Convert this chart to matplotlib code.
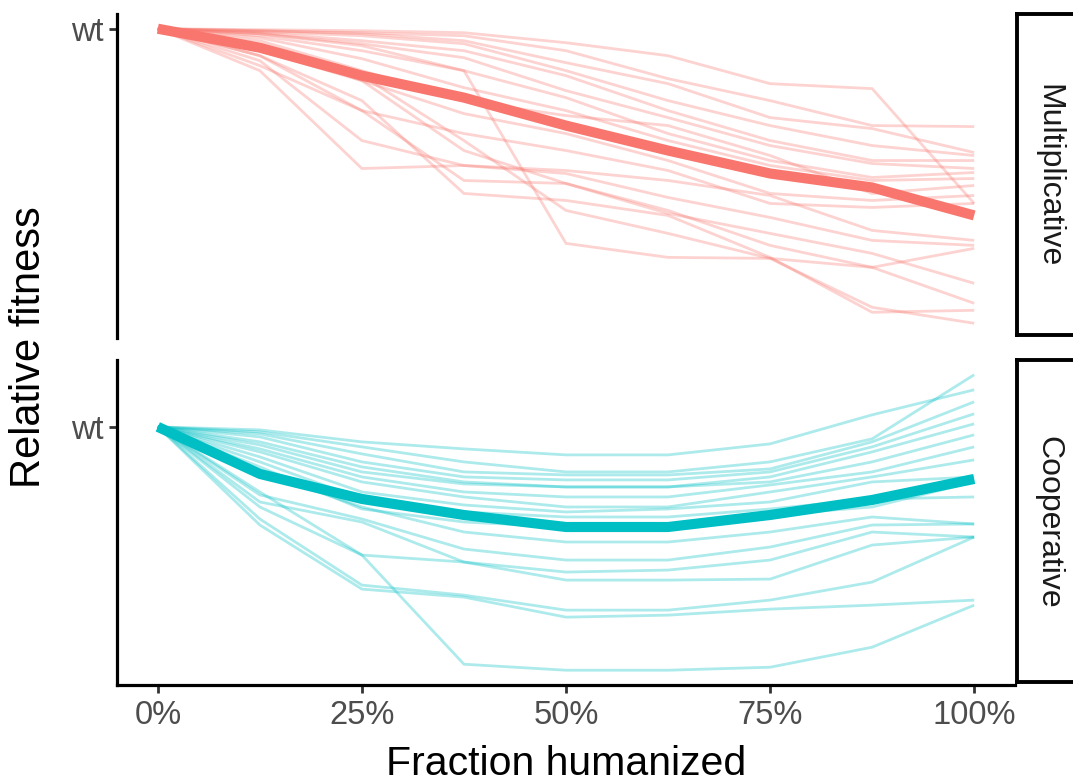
import matplotlib
matplotlib.use("Agg")
import matplotlib.pyplot as plt

plt.rcParams['font.family'] = ['Liberation Sans', 'DejaVu Sans']

# ---------------- data ----------------
frac = [0, 0.125, 0.25, 0.375, 0.5, 0.625, 0.75, 0.875, 1.0]
x_ticks = [0, 0.25, 0.5, 0.75, 1.0]
x_tick_labels = ["0%", "25%", "50%", "75%", "100%"]
y_tick_value = 1.0
y_tick_label = "wt"
panels = ["Multiplicative", "Cooperative"]

mult_lines = [
    [1, 0.999, 0.998, 0.996, 0.986, 0.973, 0.945, 0.940, 0.825],
    [1, 0.998, 0.996, 0.993, 0.978, 0.950, 0.928, 0.903, 0.902],
    [1, 0.998, 0.995, 0.988, 0.966, 0.945, 0.911, 0.900, 0.876],
    [1, 0.997, 0.993, 0.985, 0.958, 0.928, 0.903, 0.883, 0.873],
    [1, 0.996, 0.988, 0.978, 0.953, 0.918, 0.888, 0.868, 0.868],
    [1, 0.995, 0.985, 0.971, 0.938, 0.911, 0.883, 0.865, 0.860],
    [1, 0.993, 0.978, 0.958, 0.931, 0.895, 0.868, 0.851, 0.856],
    [1, 0.991, 0.970, 0.941, 0.918, 0.888, 0.863, 0.848, 0.850],
    [1, 0.988, 0.958, 0.928, 0.913, 0.903, 0.873, 0.835, 0.843],
    [1, 0.983, 0.948, 0.915, 0.895, 0.868, 0.835, 0.828, 0.833],
    [1, 0.973, 0.918, 0.895, 0.878, 0.858, 0.825, 0.821, 0.825],
    [1, 0.968, 0.888, 0.863, 0.858, 0.848, 0.833, 0.798, 0.788],
    [1, 0.958, 0.860, 0.863, 0.855, 0.831, 0.811, 0.788, 0.783],
    [1, 0.978, 0.948, 0.878, 0.845, 0.815, 0.795, 0.775, 0.745],
    [1, 0.963, 0.918, 0.848, 0.845, 0.818, 0.783, 0.761, 0.725],
    [1, 0.983, 0.953, 0.888, 0.818, 0.795, 0.770, 0.721, 0.705],
    [1, 0.973, 0.928, 0.835, 0.828, 0.813, 0.771, 0.716, 0.718],
    [1, 0.995, 0.983, 0.958, 0.785, 0.771, 0.770, 0.761, 0.780],
]
mult_mean = [1, 0.981, 0.953, 0.931, 0.903, 0.878, 0.855, 0.841, 0.813]

coop_lines = [
    [1, 0.997, 0.985, 0.978, 0.972, 0.972, 0.983, 1.012, 1.037],
    [1, 0.995, 0.980, 0.965, 0.955, 0.955, 0.965, 0.988, 1.052],
    [1, 0.993, 0.973, 0.955, 0.952, 0.952, 0.958, 0.985, 1.025],
    [1, 0.990, 0.965, 0.950, 0.947, 0.947, 0.955, 0.980, 1.013],
    [1, 0.985, 0.960, 0.945, 0.940, 0.940, 0.950, 0.975, 1.003],
    [1, 0.982, 0.955, 0.943, 0.940, 0.940, 0.945, 0.965, 0.992],
    [1, 0.978, 0.950, 0.935, 0.930, 0.930, 0.942, 0.955, 0.980],
    [1, 0.975, 0.945, 0.930, 0.920, 0.920, 0.935, 0.950, 0.967],
    [1, 0.970, 0.935, 0.922, 0.915, 0.918, 0.925, 0.945, 0.950],
    [1, 0.965, 0.928, 0.915, 0.910, 0.910, 0.918, 0.928, 0.930],
    [1, 0.960, 0.918, 0.905, 0.900, 0.900, 0.912, 0.920, 0.945],
    [1, 0.955, 0.920, 0.895, 0.885, 0.885, 0.895, 0.910, 0.903],
    [1, 0.932, 0.908, 0.878, 0.867, 0.867, 0.880, 0.902, 0.903],
    [1, 0.925, 0.905, 0.865, 0.855, 0.857, 0.867, 0.895, 0.890],
    [1, 0.920, 0.872, 0.865, 0.847, 0.847, 0.848, 0.882, 0.890],
    [1, 0.908, 0.842, 0.832, 0.817, 0.817, 0.827, 0.845, 0.890],
    [1, 0.902, 0.838, 0.830, 0.810, 0.812, 0.818, 0.822, 0.827],
    [1, 0.935, 0.872, 0.763, 0.757, 0.757, 0.760, 0.780, 0.822],
]
coop_mean = [1, 0.953, 0.928, 0.912, 0.900, 0.900, 0.912, 0.927, 0.948]

colors = ["#F8766D", "#00BFC4"]

# ---------------- figure ----------------
W, H = 1073, 783
fig = plt.figure(figsize=(W / 100, H / 100), dpi=100)

def fx(px):
    return px / W

def fy(py):
    return 1 - py / H

panel_px = [(14, 338), (360, 685)]
ax_left, ax_right = 117, 1015
strip_left, strip_right = 1017, 1250

series = [(mult_lines, mult_mean), (coop_lines, coop_mean)]
for i, (top, bot) in enumerate(panel_px):
    ax = fig.add_axes([fx(ax_left), fy(bot), fx(ax_right - ax_left), (bot - top) / H])
    lines, mean = series[i]
    for ln in lines:
        ax.plot(frac, ln, color=colors[i], lw=2.0, alpha=0.32,
                solid_capstyle='butt', solid_joinstyle='miter')
    ax.plot(frac, mean, color=colors[i], lw=7.3, solid_capstyle='butt',
            solid_joinstyle='round')
    ax.margins(x=0.05, y=0.05)
    for s in ['top', 'right']:
        ax.spines[s].set_visible(False)
    for s in ['left', 'bottom']:
        ax.spines[s].set_linewidth(2.3)
        ax.spines[s].set_color('black')
    ax.set_yticks([y_tick_value])
    ax.set_yticklabels([y_tick_label])
    ax.tick_params(axis='y', length=6, width=2, color='#333333',
                   labelsize=23.5, labelcolor='#4D4D4D', pad=4)
    if i == 0:
        ax.spines['bottom'].set_visible(False)
        ax.set_xticks([])
    else:
        ax.set_xticks(x_ticks)
        ax.set_xticklabels(x_tick_labels)
        ax.tick_params(axis='x', length=6, width=2, color='#333333',
                       labelsize=23.5, labelcolor='#4D4D4D', pad=5)

    # facet strip (extends past the right edge, as in the reference)
    sax = fig.add_axes([fx(strip_left), fy(bot - 3), fx(strip_right - strip_left),
                        (bot - 3 - top) / H])
    sax.set_xticks([])
    sax.set_yticks([])
    for s in sax.spines.values():
        s.set_linewidth(2.8)
        s.set_color('black')
    sax.text(fx(1048), fy((top + bot) / 2), panels[i], rotation=-90,
             ha='center', va='center', fontsize=23, color='#1A1A1A',
             transform=fig.transFigure)

fig.text(fx(566), fy(775), "Fraction humanized", ha='center', va='baseline',
         fontsize=29.5, color='black')
fig.text(fx(29), fy(347), "Relative fitness", ha='center', va='center',
         rotation=90, fontsize=30, color='black')

fig.savefig("out.png", dpi=100)
